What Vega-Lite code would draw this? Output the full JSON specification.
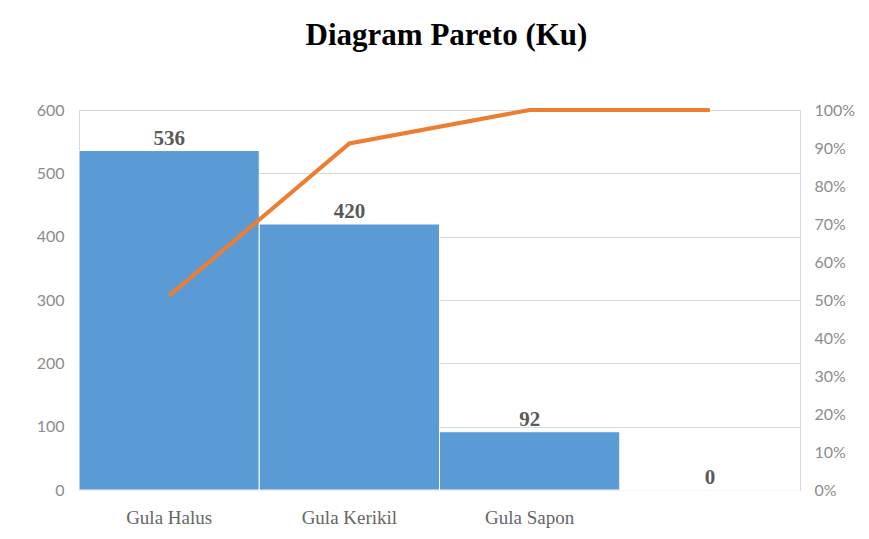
{
  "$schema": "https://vega.github.io/schema/vega-lite/v6.json",
  "width": 721,
  "height": 380,
  "autosize": {"type": "none"},
  "padding": {"left": 79, "top": 110, "right": 69, "bottom": 49},
  "background": "white",
  "title": {
    "text": "Diagram Pareto (Ku)",
    "font": "Liberation Serif",
    "fontSize": 31,
    "fontWeight": "bold",
    "color": "#000000",
    "anchor": "middle",
    "offset": 50,
    "dx": 7
  },
  "config": {
    "view": {"stroke": "#d9d9d9", "strokeWidth": 1}
  },
  "data": {
    "values": [
      {"kategori": "Gula Halus", "urutan": 1, "jumlah": 536, "kumulatif": 0.511},
      {"kategori": "Gula Kerikil", "urutan": 2, "jumlah": 420, "kumulatif": 0.912},
      {"kategori": "Gula Sapon", "urutan": 3, "jumlah": 92, "kumulatif": 1.0},
      {"kategori": "(kosong)", "urutan": 4, "jumlah": 0, "kumulatif": 1.0}
    ]
  },
  "encoding": {
    "x": {
      "field": "kategori",
      "type": "nominal",
      "sort": {"field": "urutan"},
      "scale": {"paddingInner": 0, "paddingOuter": 0},
      "axis": {
        "title": null,
        "labelAngle": 0,
        "labelExpr": "datum.value == '(kosong)' ? '' : datum.value",
        "labelFont": "Liberation Serif",
        "labelFontSize": 19,
        "labelColor": "#666666",
        "labelPadding": 18,
        "ticks": false,
        "domainColor": "#d9d9d9",
        "domainWidth": 1
      }
    }
  },
  "layer": [
    {
      "layer": [
        {
          "mark": {"type": "bar", "color": "#5b9bd5", "stroke": "white", "strokeWidth": 1},
          "encoding": {
            "y": {
              "field": "jumlah",
              "type": "quantitative",
              "scale": {"domain": [0, 600], "nice": false},
              "axis": {
                "title": null,
                "values": [0, 100, 200, 300, 400, 500, 600],
                "labelFont": "Lato",
                "labelFontSize": 16,
                "labelColor": "#8c8c8c",
                "labelPadding": 15,
                "ticks": false,
                "domain": false,
                "grid": true,
                "gridColor": "#d9d9d9",
                "gridWidth": 1
              }
            }
          }
        },
        {
          "mark": {
            "type": "text",
            "font": "Liberation Serif",
            "fontSize": 21,
            "fontWeight": "bold",
            "color": "#595959",
            "baseline": "bottom",
            "dy": -2
          },
          "encoding": {
            "y": {"field": "jumlah", "type": "quantitative"},
            "text": {"field": "jumlah", "type": "quantitative"}
          }
        }
      ]
    },
    {
      "mark": {"type": "line", "color": "#ed7d31", "strokeWidth": 4},
      "encoding": {
        "y": {
          "field": "kumulatif",
          "type": "quantitative",
          "scale": {"domain": [0, 1], "nice": false},
          "axis": {
            "orient": "right",
            "title": null,
            "format": ".0%",
            "values": [0, 0.1, 0.2, 0.3, 0.4, 0.5, 0.6, 0.7, 0.8, 0.9, 1.0],
            "labelFont": "Lato",
            "labelFontSize": 16,
            "labelColor": "#8c8c8c",
            "labelPadding": 14,
            "ticks": false,
            "domain": false,
            "grid": false
          }
        }
      }
    }
  ],
  "resolve": {"scale": {"y": "independent"}}
}
